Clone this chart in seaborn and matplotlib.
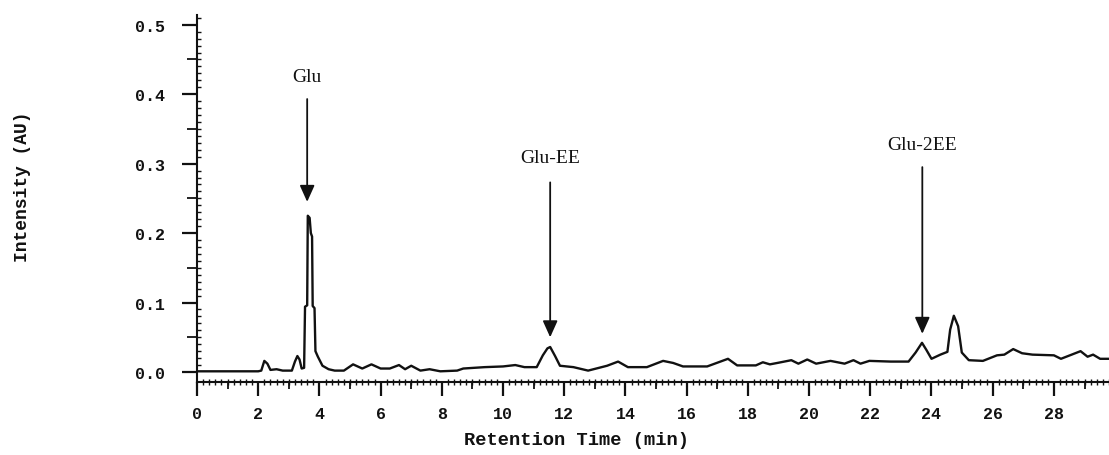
import numpy as np
import pandas as pd
import matplotlib
matplotlib.use("Agg")
import matplotlib.pyplot as plt
import seaborn as sns

# Chromatogram trace (retention time in min, intensity in AU)
time_min = [0.0, 1.0, 2.0, 2.1, 2.2, 2.3, 2.4, 2.6, 2.8, 3.1, 3.2, 3.28, 3.35, 3.42, 3.5,
            3.53, 3.6, 3.62, 3.68, 3.72, 3.76, 3.78, 3.84, 3.87, 3.95, 4.1, 4.3, 4.5, 4.8,
            5.1, 5.4, 5.7, 6.0, 6.3, 6.6, 6.8, 7.0, 7.3, 7.6, 7.95, 8.5, 8.7, 9.4, 10.0,
            10.4, 10.7, 11.1, 11.3, 11.45, 11.54, 11.7, 11.86, 12.3, 12.78, 13.4, 13.76,
            14.08, 14.7, 15.23, 15.56, 15.88, 16.67, 17.35, 17.65, 18.26, 18.49, 18.72,
            18.96, 19.42, 19.65, 19.94, 20.23, 20.7, 21.16, 21.45, 21.68, 21.97, 22.67,
            23.25, 23.48, 23.69, 23.83, 24.0, 24.29, 24.52, 24.61, 24.73, 24.87, 24.99,
            25.22, 25.68, 26.14, 26.38, 26.67, 26.96, 27.3, 28.0, 28.23, 28.58, 28.87,
            29.1, 29.28, 29.51, 29.8]
intensity = [0.001, 0.001, 0.001, 0.002, 0.016, 0.012, 0.003, 0.004, 0.002, 0.002, 0.015,
             0.023, 0.018, 0.005, 0.006, 0.094, 0.096, 0.225, 0.222, 0.200, 0.195, 0.095,
             0.092, 0.030, 0.022, 0.009, 0.004, 0.002, 0.002, 0.011, 0.005, 0.011, 0.005,
             0.005, 0.010, 0.004, 0.009, 0.002, 0.004, 0.001, 0.002, 0.005, 0.007, 0.008,
             0.010, 0.007, 0.007, 0.024, 0.034, 0.036, 0.023, 0.009, 0.007, 0.002, 0.009,
             0.015, 0.007, 0.007, 0.016, 0.013, 0.008, 0.008, 0.019, 0.0095, 0.0095, 0.014,
             0.011, 0.013, 0.017, 0.012, 0.018, 0.012, 0.016, 0.012, 0.017, 0.012, 0.016,
             0.015, 0.015, 0.028, 0.042, 0.032, 0.019, 0.025, 0.029, 0.061, 0.081, 0.066,
             0.028, 0.017, 0.016, 0.024, 0.025, 0.033, 0.027, 0.025, 0.024, 0.019, 0.025,
             0.030, 0.022, 0.025, 0.019, 0.019]

# Peak annotations
peak_labels = ["Glu", "Glu-EE", "Glu-2EE"]
peak_times = [3.6, 11.54, 23.7]
arrow_tips = [0.245, 0.050, 0.055]
arrow_tails = [0.393, 0.273, 0.295]
label_y = [0.426, 0.309, 0.327]

x_ticks = list(range(0, 30, 2))
y_ticks = [0.0, 0.1, 0.2, 0.3, 0.4, 0.5]
y_ticklabels = ["0.0", "0.1", "0.2", "0.3", "0.4", "0.5"]

sns.set_style("ticks")
mono = ["Liberation Mono", "DejaVu Sans Mono"]

fig = plt.figure(figsize=(11.09, 4.56), dpi=100)
ax = fig.add_axes([197 / 1109, 1 - 383 / 456, 1 - 197 / 1109, (383 - 16) / 456])

df = pd.DataFrame({"t": time_min, "I": intensity})
sns.lineplot(data=df, x="t", y="I", ax=ax, color="#111111", linewidth=1.7,
             estimator=None, sort=False)

ax.set_xlim(0, 29.8)
ax.set_ylim(-0.0144, 0.514)
sns.despine(ax=ax)
for s in ["left", "bottom"]:
    ax.spines[s].set_linewidth(1.5)
    ax.spines[s].set_color("#111111")

ax.set_xticks(x_ticks)
ax.set_xticklabels([str(v) for v in x_ticks])
ax.set_xticks(np.arange(0, 29.81, 0.2), minor=True)
ax.set_yticks(y_ticks)
ax.set_yticklabels(y_ticklabels)
ax.set_yticks(np.arange(0, 0.511, 0.01), minor=True)

ax.tick_params(axis="x", which="major", direction="out", length=10, width=1.6,
               pad=7, color="#111111")
ax.tick_params(axis="x", which="minor", direction="inout", length=4, width=1.0,
               color="#111111")
ax.tick_params(axis="y", which="major", direction="out", length=11, width=1.6,
               pad=12, color="#111111")
ax.tick_params(axis="y", which="minor", direction="in", length=3, width=1.0,
               color="#111111")
for lab in ax.get_xticklabels() + ax.get_yticklabels():
    lab.set_fontfamily(mono)
    lab.set_fontweight("bold")
    lab.set_fontsize(12)
    lab.set_color("#111111")

# medium ticks (odd minutes, 0.05 AU)
secx = ax.secondary_xaxis("bottom")
secx.set_xticks(list(range(1, 30, 2)))
secx.set_xticklabels([])
secx.tick_params(direction="out", length=5, width=1.3, color="#111111")
secx.spines["bottom"].set_visible(False)
secy = ax.secondary_yaxis("left")
secy.set_yticks([0.05, 0.15, 0.25, 0.35, 0.45])
secy.set_yticklabels([])
secy.tick_params(direction="out", length=7, width=1.3, color="#111111")
secy.spines["left"].set_visible(False)

ax.set_xlabel("Retention Time (min)", fontfamily=mono, fontweight="bold",
              fontsize=13.5, color="#111111")
ax.xaxis.set_label_coords((576 - 197) / 912, (383 - 432) / 367)
ax.set_ylabel("Intensity (AU)", fontfamily=mono, fontweight="bold",
              fontsize=13, color="#111111")
ax.yaxis.set_label_coords((31 - 197) / 912, (383 - 187) / 367)

for name, t, tip, tail, ly in zip(peak_labels, peak_times, arrow_tips, arrow_tails, label_y):
    ax.annotate("", xy=(t, tip), xytext=(t, tail),
                arrowprops=dict(arrowstyle="-|>,head_length=1.0,head_width=0.45",
                                mutation_scale=10, color="#111111", lw=1.3,
                                shrinkA=0, shrinkB=0))
    ax.text(t, ly, name, ha="center", va="center", fontsize=14,
            fontfamily="Liberation Serif", color="#111111")

fig.savefig("out.png", dpi=100)
